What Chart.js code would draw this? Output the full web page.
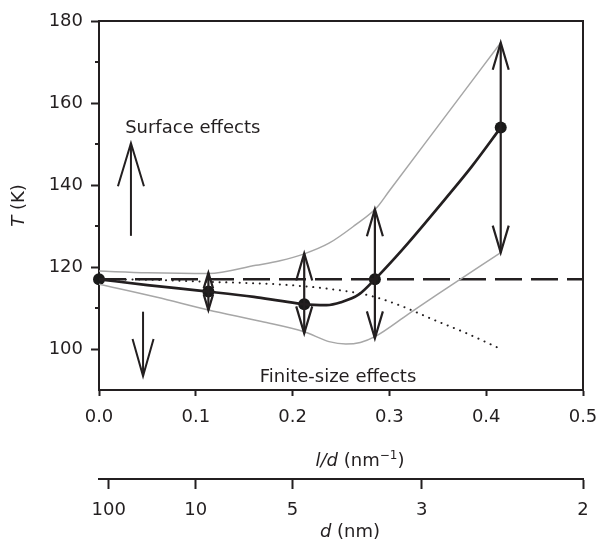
<!DOCTYPE html>
<html><head><meta charset="utf-8">
<script src="https://cdn.jsdelivr.net/npm/chart.js@4.4.1/dist/chart.umd.min.js"></script>
<style>html,body{margin:0;padding:0;background:#fff}canvas{display:block}</style>
</head><body>
<canvas id="c" width="599" height="541"></canvas>
<script>
// ---- data (l/d in nm^-1, T in K) ----
const ldPoints = [0, 0.113, 0.212, 0.285, 0.415];
const tPoints  = [117, 114, 110.9, 117, 154];

const curveLd = [0, 0.05, 0.113, 0.16, 0.186, 0.212, 0.235, 0.25, 0.2685, 0.285, 0.306, 0.3195, 0.358, 0.385, 0.415];
const curveT  = [117, 115.6, 114, 112.7, 111.8, 110.9, 110.7, 111.4, 113.3, 117, 122.3, 125.9, 136.7, 144.5, 154];

const upperLd = [0, 0.05, 0.113, 0.162, 0.187, 0.212, 0.2376, 0.2645, 0.287, 0.30, 0.35, 0.415];
const upperT  = [119, 118.6, 118.4, 120.4, 121.5, 123.2, 125.8, 130.2, 134.5, 138.6, 154.3, 174.7];

const lowerLd = [0, 0.06, 0.113, 0.168, 0.212, 0.2376, 0.255, 0.27, 0.285, 0.3195, 0.35, 0.415];
const lowerT  = [115.8, 112.6, 109.5, 106.7, 104.2, 101.8, 101.2, 101.6, 103, 108.5, 113.4, 123.5];

const dotLd = [0, 0.05, 0.1, 0.15, 0.19, 0.24, 0.28, 0.31, 0.345, 0.38, 0.415];
const dotT  = [117, 116.9, 116.5, 116.1, 115.7, 114.6, 113, 110.7, 107.2, 103.8, 100];

const dashLd = [0, 0.5];
const dashT  = [117, 117];

const arrowLd   = [0.113, 0.212, 0.285, 0.415];
const arrowLow  = [109.5, 103.8, 102.6, 123.5];
const arrowHigh = [118.6, 123.3, 134.1, 174.7];

const xTicks = [0, 0.1, 0.2, 0.3, 0.4, 0.5];
const yTicks = [100, 120, 140, 160, 180];
const dTicks = [100, 10, 5, 3, 2];   // d (nm); l/d = 1/d

const surfaceLabel = {text: 'Surface effects', ld: 0.027, t: 152.7};
const finiteLabel  = {text: 'Finite-size effects', ld: 0.166, t: 92};
const surfaceArrow = {ld: 0.033, from: 127.6, to: 150.2};
const finiteArrow  = {ld: 0.0455, from: 109.1, to: 93.4};

// ---- styling ----
const INK = '#231f20';
const FONT = "'DejaVu Sans', sans-serif";
Chart.defaults.font.family = FONT;
Chart.defaults.font.size = 18;
Chart.defaults.color = INK;

function pts(xs, ys) { return xs.map((x, i) => ({x: x, y: ys[i]})); }

function drawArrowHead(ctx, x, tipY, dir, len, hw) {
  ctx.beginPath();
  ctx.moveTo(x - hw, tipY - dir * len);
  ctx.lineTo(x, tipY);
  ctx.lineTo(x + hw, tipY - dir * len);
  ctx.stroke();
}

function drawRich(ctx, parts, cx, baseline) {
  let total = 0;
  parts.forEach(p => { ctx.font = p.font; p.w = ctx.measureText(p.text).width; total += p.w; });
  let x = cx - total / 2;
  ctx.textAlign = 'left';
  ctx.textBaseline = 'alphabetic';
  parts.forEach(p => { ctx.font = p.font; ctx.fillText(p.text, x, baseline + (p.dy || 0)); x += p.w; });
}

function noSidePad(s, h) { s.height = h; s.paddingLeft = 0; s.paddingRight = 0; }

const overlay = {
  id: 'overlay',
  afterDraw(chart) {
    const ctx = chart.ctx, a = chart.chartArea;
    const xs = chart.scales.x, ys = chart.scales.y, x2 = chart.scales.x2;
    ctx.save();
    ctx.strokeStyle = INK;
    ctx.fillStyle = INK;
    ctx.lineCap = 'butt';
    ctx.lineWidth = 2;
    ctx.beginPath();
    ctx.moveTo(a.left - 1, a.top);
    ctx.lineTo(a.right, a.top);
    ctx.lineTo(a.right, a.bottom + 1);
    ctx.stroke();
    [110, 130, 150, 170].forEach(v => {
      const py = ys.getPixelForValue(v);
      ctx.beginPath(); ctx.moveTo(a.left - 4, py); ctx.lineTo(a.left, py); ctx.stroke();
    });
    ctx.lineWidth = 2.2;
    arrowLd.forEach((ld, i) => {
      const px = xs.getPixelForValue(ld);
      const pLow = ys.getPixelForValue(arrowLow[i]);
      const pHigh = ys.getPixelForValue(arrowHigh[i]);
      const len = Math.abs(pLow - pHigh);
      const hl = Math.min(27, len * 0.42);
      const hw = Math.min(8, hl * 0.3);
      ctx.beginPath(); ctx.moveTo(px, pLow); ctx.lineTo(px, pHigh); ctx.stroke();
      drawArrowHead(ctx, px, pHigh, -1, hl, hw);
      drawArrowHead(ctx, px, pLow, 1, hl, hw);
    });
    ctx.lineWidth = 2;
    let px = xs.getPixelForValue(surfaceArrow.ld);
    let p0 = ys.getPixelForValue(surfaceArrow.from), p1 = ys.getPixelForValue(surfaceArrow.to);
    ctx.beginPath(); ctx.moveTo(px, p0); ctx.lineTo(px, p1); ctx.stroke();
    drawArrowHead(ctx, px, p1, -1, 43, 13);
    px = xs.getPixelForValue(finiteArrow.ld);
    p0 = ys.getPixelForValue(finiteArrow.from); p1 = ys.getPixelForValue(finiteArrow.to);
    ctx.beginPath(); ctx.moveTo(px, p0); ctx.lineTo(px, p1); ctx.stroke();
    drawArrowHead(ctx, px, p1, 1, 37, 10.5);
    ctx.font = '18px ' + FONT;
    ctx.textAlign = 'left';
    ctx.textBaseline = 'alphabetic';
    ctx.fillText(surfaceLabel.text, xs.getPixelForValue(surfaceLabel.ld), ys.getPixelForValue(surfaceLabel.t));
    ctx.fillText(finiteLabel.text, xs.getPixelForValue(finiteLabel.ld), ys.getPixelForValue(finiteLabel.t));
    const mid = (xs.left + xs.right) / 2;
    drawRich(ctx, [
      {text: 'l/d', font: 'italic 18px ' + FONT},
      {text: ' (nm', font: '18px ' + FONT},
      {text: '\u22121', font: '12px ' + FONT, dy: -7},
      {text: ')', font: '18px ' + FONT}
    ], mid + 19, xs.bottom - 13);
    drawRich(ctx, [
      {text: 'd', font: 'italic 18px ' + FONT},
      {text: ' (nm)', font: '18px ' + FONT}
    ], mid + 9, x2.bottom - 4);
    ctx.save();
    ctx.translate(24, (ys.top + ys.bottom) / 2);
    ctx.rotate(-Math.PI / 2);
    drawRich(ctx, [
      {text: 'T', font: 'italic 18px ' + FONT},
      {text: ' (K)', font: '18px ' + FONT}
    ], 0, 0);
    ctx.restore();
    ctx.restore();
  }
};

new Chart(document.getElementById('c'), {
  type: 'line',
  data: {
    datasets: [
      {data: pts(upperLd, upperT), borderColor: '#a7a7a7', borderWidth: 1.5, pointRadius: 0, cubicInterpolationMode: 'monotone'},
      {data: pts(lowerLd, lowerT), borderColor: '#a7a7a7', borderWidth: 1.5, pointRadius: 0, cubicInterpolationMode: 'monotone'},
      {data: pts(dotLd, dotT), borderColor: INK, borderWidth: 2, borderDash: [0.1, 6.6], borderCapStyle: 'round', pointRadius: 0, cubicInterpolationMode: 'monotone'},
      {data: pts(dashLd, dashT), borderColor: INK, borderWidth: 2.4, borderDash: [27, 9], pointRadius: 0},
      {data: pts(curveLd, curveT), borderColor: INK, borderWidth: 2.7, pointRadius: 0, cubicInterpolationMode: 'monotone'},
      {data: pts(ldPoints, tPoints), showLine: false, pointRadius: 6, pointBackgroundColor: '#1a1a1a', pointBorderWidth: 0, clip: false}
    ]
  },
  options: {
    responsive: false,
    animation: false,
    devicePixelRatio: 1,
    layout: {padding: {top: 21, right: 16, left: 0, bottom: 0}},
    plugins: {legend: {display: false}, tooltip: {enabled: false}},
    scales: {
      x: {
        type: 'linear', position: 'bottom', weight: 0, min: 0, max: 0.5,
        afterBuildTicks: s => { s.ticks = xTicks.map(v => ({value: v})); },
        ticks: {callback: v => v.toFixed(1), autoSkip: false, maxRotation: 0, padding: 11},
        grid: {drawOnChartArea: false, tickLength: 6, tickColor: INK, tickWidth: 2},
        border: {color: INK, width: 2},
        afterFit: s => noSidePad(s, 89)
      },
      x2: {
        type: 'linear', position: 'bottom', weight: 1, min: 0, max: 0.5,
        afterBuildTicks: s => { s.ticks = dTicks.map(d => ({value: 1 / d})); },
        ticks: {callback: (v, i) => String(dTicks[i]), autoSkip: false, maxRotation: 0, padding: 11},
        grid: {drawOnChartArea: false, tickLength: 10, tickColor: INK, tickWidth: 2},
        border: {color: INK, width: 2},
        afterFit: s => noSidePad(s, 62)
      },
      y: {
        type: 'linear', position: 'left', min: 90, max: 180,
        afterBuildTicks: s => { s.ticks = [90, 100, 110, 120, 130, 140, 150, 160, 170, 180].map(v => ({value: v})); },
        ticks: {callback: v => (yTicks.includes(v) ? String(v) : ''), autoSkip: false, padding: 8},
        grid: {drawOnChartArea: false, tickLength: 8, tickWidth: 2,
               tickColor: c => (c.tick && yTicks.includes(c.tick.value)) ? INK : 'rgba(0,0,0,0)'},
        border: {color: INK, width: 2},
        afterFit: s => { s.width = 99; }
      }
    }
  },
  plugins: [overlay]
});
</script>
</body></html>
